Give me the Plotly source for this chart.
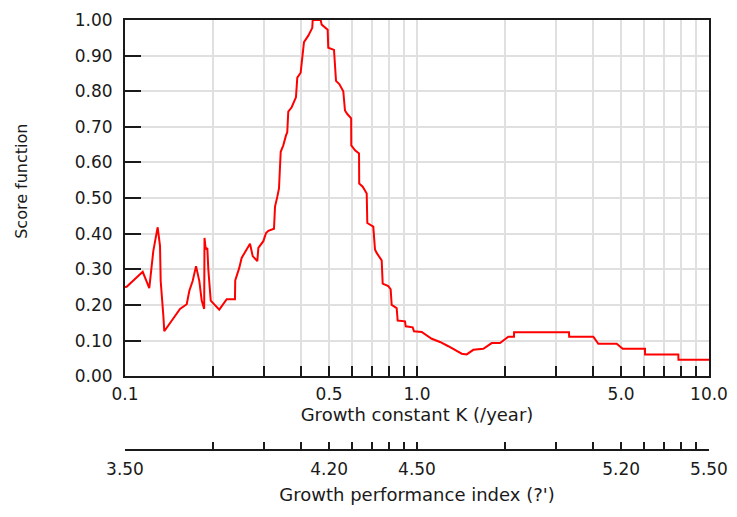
import plotly.graph_objects as go

# Growth constant K (/year) and score function values
k_values = [
    0.1000, 0.1013, 0.1150, 0.1211, 0.1234, 0.1250, 0.1277, 0.1294, 0.1318, 0.1325,
    0.1353, 0.1363, 0.1543, 0.1627, 0.1661, 0.1705, 0.1751, 0.1797, 0.1831, 0.1867,
    0.1872, 0.1890, 0.1914, 0.1929, 0.1966, 0.2103, 0.2230, 0.2380, 0.2385, 0.2462,
    0.2509, 0.2680, 0.2738, 0.2839, 0.2862, 0.2977, 0.3041, 0.3097, 0.3238, 0.3264,
    0.3324, 0.3368, 0.3414, 0.3484, 0.3559, 0.3595, 0.3624, 0.3722, 0.3850, 0.3891,
    0.3995, 0.4102, 0.4243, 0.4379, 0.4393, 0.4679, 0.4716, 0.4944, 0.4967, 0.5197,
    0.5280, 0.5418, 0.5592, 0.5667, 0.5771, 0.5950, 0.5955, 0.6135, 0.6331, 0.6340,
    0.6517, 0.6726, 0.6758, 0.7084, 0.7180, 0.7277, 0.7570, 0.7629, 0.7973, 0.8125,
    0.8190, 0.8519, 0.8586, 0.9097, 0.9148, 0.9667, 0.9766, 1.038, 1.123, 1.199,
    1.280, 1.331, 1.423, 1.480, 1.559, 1.687, 1.803, 1.924, 2.055, 2.149,
    2.150, 3.316, 3.320, 4.017, 4.178, 4.830, 5.064, 6.037, 6.040, 7.852,
    7.860, 10.0,
]
score_values = [
    0.250, 0.251, 0.293, 0.247, 0.309, 0.351, 0.393, 0.418, 0.365, 0.267,
    0.170, 0.126, 0.189, 0.202, 0.240, 0.267, 0.309, 0.267, 0.212, 0.189,
    0.388, 0.356, 0.360, 0.300, 0.212, 0.187, 0.216, 0.216, 0.269, 0.304,
    0.332, 0.372, 0.337, 0.323, 0.360, 0.379, 0.402, 0.408, 0.414, 0.476,
    0.504, 0.527, 0.630, 0.648, 0.676, 0.685, 0.743, 0.755, 0.783, 0.838,
    0.852, 0.938, 0.956, 0.978, 1.000, 1.000, 0.987, 0.973, 0.922, 0.916,
    0.829, 0.820, 0.800, 0.746, 0.736, 0.724, 0.648, 0.634, 0.625, 0.541,
    0.532, 0.513, 0.430, 0.420, 0.356, 0.346, 0.325, 0.260, 0.253, 0.244,
    0.200, 0.191, 0.156, 0.154, 0.140, 0.137, 0.126, 0.124, 0.105, 0.096,
    0.084, 0.077, 0.063, 0.061, 0.074, 0.077, 0.093, 0.093, 0.111, 0.111,
    0.123, 0.123, 0.111, 0.111, 0.091, 0.091, 0.077, 0.077, 0.061, 0.061,
    0.046, 0.046,
]

# Axis ticks
k_ticks = [0.1, 0.2, 0.3, 0.4, 0.5, 0.6, 0.7, 0.8, 0.9, 1.0,
           2, 3, 4, 5, 6, 7, 8, 9, 10]
k_tick_labels = ["0.1", "", "", "", "0.5", "", "", "", "", "1.0",
                 "", "", "", "5.0", "", "", "", "", "10.0"]
phi_tick_labels = ["3.50", "", "", "", "4.20", "", "", "", "", "4.50",
                   "", "", "", "5.20", "", "", "", "", "5.50"]
score_ticks = [0.0, 0.1, 0.2, 0.3, 0.4, 0.5, 0.6, 0.7, 0.8, 0.9, 1.0]

FONT = "DejaVu Sans, Verdana, sans-serif"
FSIZE = 17
GRID = "#e0e0e0"
INK = "#1a1a1a"

fig = go.Figure()
fig.add_trace(go.Scatter(
    x=k_values, y=score_values, mode="lines",
    line=dict(color="#ff0000", width=2),
    showlegend=False, hoverinfo="x+y",
))
# invisible trace to carry the secondary (growth performance index) axis
fig.add_trace(go.Scatter(
    x=[k_ticks[0], k_ticks[-1]], y=[None, None], xaxis="x2", yaxis="y",
    mode="lines", showlegend=False, hoverinfo="skip",
))

fig.update_layout(
    width=729, height=509,
    margin=dict(l=117, r=28, t=12, b=67, autoexpand=False),
    paper_bgcolor="white", plot_bgcolor="white",
    font=dict(family=FONT, size=FSIZE, color=INK),
    xaxis=dict(
        type="log", range=[-1, 1],
        tickmode="array", tickvals=k_ticks, ticktext=k_tick_labels,
        tickfont=dict(size=FSIZE), ticklabeloverflow="allow",
        ticks="inside", ticklen=10, tickwidth=1.5, tickcolor=INK,
        showline=True, linecolor=INK, linewidth=2, mirror=True,
        showgrid=True, gridcolor=GRID, gridwidth=1.5,
        zeroline=False, anchor="y",
        ticklabelstandoff=1,
        title=dict(text="Growth constant K (/year)", standoff=5,
                   font=dict(size=FSIZE + 1)),
    ),
    xaxis2=dict(
        type="log", range=[-1, 1], overlaying="x", anchor="free",
        position=0, side="bottom",
        tickmode="array", tickvals=k_ticks, ticktext=phi_tick_labels,
        tickfont=dict(size=FSIZE), ticklabeloverflow="allow",
        ticks="inside", ticklen=7, tickwidth=1.5, tickcolor=INK,
        showline=True, linecolor=INK, linewidth=1.5,
        showgrid=False, zeroline=False,
        ticklabelstandoff=4,
        title=dict(text="Growth performance index (?')", standoff=9,
                   font=dict(size=FSIZE + 1)),
    ),
    yaxis=dict(
        range=[0, 1], domain=[0.1717, 1],
        tickmode="array", tickvals=score_ticks,
        tickformat=".2f", tickfont=dict(size=FSIZE),
        ticklabeloverflow="allow",
        ticks="inside", ticklen=16, tickwidth=1.5, tickcolor=INK,
        showline=True, linecolor=INK, linewidth=2, mirror=True,
        showgrid=True, gridcolor=GRID, gridwidth=1.5,
        zeroline=False,
        ticklabelstandoff=7,
    ),
    annotations=[dict(
        text="Score function", textangle=-90, showarrow=False,
        xref="paper", yref="paper", x=-0.1764, y=0.626,
        xanchor="center", yanchor="middle",
        font=dict(family=FONT, size=FSIZE - 1, color=INK),
    )],
)

fig.write_html("out.html")
